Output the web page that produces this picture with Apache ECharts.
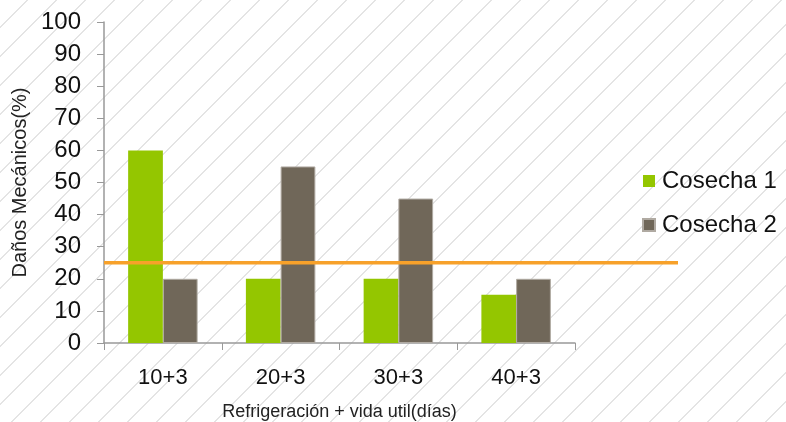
<!DOCTYPE html>
<html><head><meta charset="utf-8">
<script src="https://cdn.jsdelivr.net/npm/echarts@6/dist/echarts.min.js"></script>
<style>
html,body{margin:0;padding:0;}
body{width:786px;height:422px;background:#fff repeating-linear-gradient(135deg, #fff 0px, #fff 19px, #e4e4e4 19px, #e4e4e4 20.5px);}
#c{width:786px;height:422px;}
</style></head>
<body><div id="c"></div>
<script>
const categories = ['10+3','20+3','30+3','40+3'];
const cosecha1 = [60, 20, 20, 15];
const cosecha2 = [20, 55, 45, 20];
const thresholdX = [0, 1];
const thresholdY = [25, 25];

const chart = echarts.init(document.getElementById('c'));
chart.setOption({
  backgroundColor: 'transparent',
  animation: false,
  textStyle: {fontFamily: 'Liberation Sans, Arial, sans-serif'},
  grid: [
    {left: 104, right: 211, top: 22, bottom: 79, containLabel: false, outerBoundsMode: 'none'},
    {left: 104, right: 108, top: 22, bottom: 79, containLabel: false, outerBoundsMode: 'none'}
  ],
  legend: {
    orient: 'vertical',
    left: 637, top: 164,
    itemWidth: 12, itemHeight: 12, itemGap: 20,
    icon: 'rect',
    data: ['Cosecha 1', 'Cosecha 2'],
    textStyle: {fontSize: 24, color: '#111', padding: [0,0,0,2]}
  },
  xAxis: [
    {
      type: 'category', gridIndex: 0, data: categories,
      name: 'Refrigeración + vida util(días)', nameLocation: 'middle', nameGap: 60,
      nameTextStyle: {fontSize: 18, color: '#222'},
      axisLine: {lineStyle: {color: '#999', width: 1.5}},
      axisTick: {show: true, length: 7, lineStyle: {color: '#999'}},
      axisLabel: {fontSize: 22, color: '#111', margin: 24}
    },
    {type: 'value', gridIndex: 1, min: 0, max: 1, show: false}
  ],
  yAxis: [
    {
      type: 'value', gridIndex: 0, min: 0, max: 100, interval: 10,
      name: 'Daños Mecánicos(%)', nameLocation: 'middle', nameGap: 74,
      nameTextStyle: {fontSize: 20, color: '#222'},
      axisLine: {show: true, lineStyle: {color: '#999', width: 1.5}},
      axisTick: {show: true, length: 7, lineStyle: {color: '#999'}},
      axisLabel: {fontSize: 24, color: '#111', margin: 23},
      splitLine: {show: false}
    },
    {type: 'value', gridIndex: 1, min: 0, max: 100, show: false}
  ],
  series: [
    {
      name: 'Cosecha 1', type: 'bar', xAxisIndex: 0, yAxisIndex: 0,
      data: cosecha1, barGap: '0%', barCategoryGap: '41%',
      itemStyle: {color: '#94C600'}
    },
    {
      name: 'Cosecha 2', type: 'bar', xAxisIndex: 0, yAxisIndex: 0,
      data: cosecha2, barGap: '0%', barCategoryGap: '41%',
      itemStyle: {color: '#706759', borderColor: '#b0aaa2', borderWidth: 1}
    },
    {
      name: 'Umbral', type: 'line', xAxisIndex: 1, yAxisIndex: 1,
      data: thresholdX.map((x, i) => [x, thresholdY[i]]),
      symbol: 'none', z: 5,
      lineStyle: {color: '#F7A12A', width: 3.5}
    }
  ]
});
</script>
</body></html>
